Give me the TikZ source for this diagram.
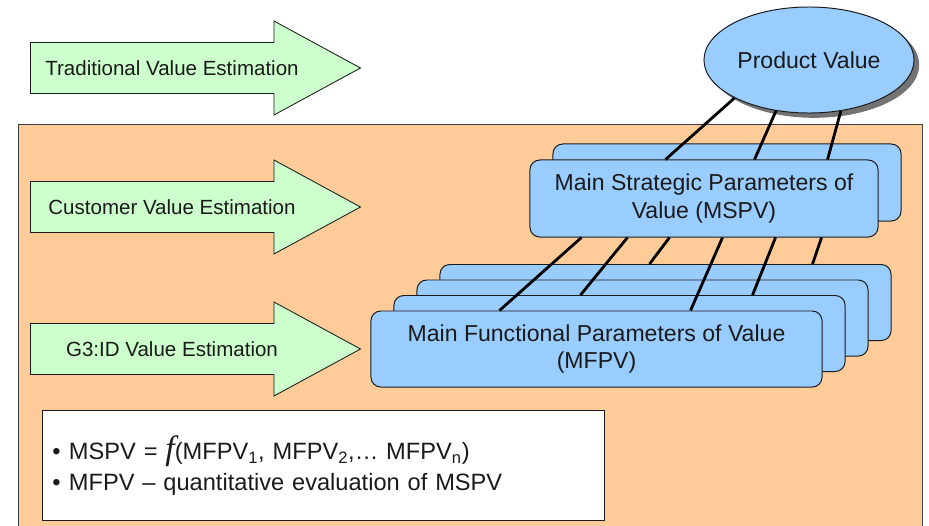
\documentclass[tikz,border=0pt]{standalone}
\usepackage{fontspec}
\setmainfont{Liberation Sans}
\newfontfamily\funcfont{Liberation Serif}
\usepackage{tikz}
\usetikzlibrary{positioning,shapes.arrows,shapes.geometric,shadows,calc}
\definecolor{zonefill}{HTML}{FFCC99}
\definecolor{zoneedge}{HTML}{404040}
\definecolor{arrowfill}{HTML}{CCFFCC}
\definecolor{parfill}{HTML}{99CCFF}
\definecolor{ink}{HTML}{1A1A1A}
\tikzset{
  zone/.style    ={draw=zoneedge,line width=0.6pt,fill=zonefill},
  estarrow/.style={single arrow,draw=ink,line width=0.6pt,fill=arrowfill,
                   inner ysep=0.625cm,inner xsep=0pt,minimum height=8.25cm,
                   single arrow head extend=0.5375cm,single arrow tip angle=57,
                   anchor=tail},
  esttext/.style ={font=\fontsize{14.6}{17.5}\selectfont,text=ink},
  pbox/.style    ={rounded corners=7pt,draw=ink,line width=0.7pt,fill=parfill,
                   align=center,inner sep=0pt,text=ink,
                   font=\fontsize{16.4}{19.8}\selectfont},
  msbox/.style   ={pbox,minimum width=8.7cm,minimum height=1.925cm},
  mfbox/.style   ={pbox,minimum width=11.275cm,minimum height=1.9cm},
  pvnode/.style  ={ellipse,draw=ink,line width=0.7pt,fill=parfill,inner sep=0pt,
                   minimum width=5.25cm,minimum height=2.65cm,text=ink,
                   font=\fontsize{16.4}{19.8}\selectfont,
                   drop shadow={shadow xshift=0.13cm,shadow yshift=-0.12cm,
                                fill=black!55,opacity=1}},
  note/.style    ={draw=ink,line width=0.6pt,fill=white,anchor=north west,
                   minimum width=14.05cm,minimum height=2.75cm,inner xsep=0.25cm,
                   text width=13.55cm,align=left,text=ink,
                   font=\fontsize{16.8}{22}\selectfont},
  link/.style    ={line width=2pt,draw=black}
}

\begin{document}
\begin{tikzpicture}[x=0.025cm,y=-0.025cm]
  \useasboundingbox (0,0) rectangle (929,526);
  \draw[zone] (18,124) rectangle (922,529);

  % estimation arrows
  \node[estarrow] (trad) at (30,68) {};
  \node[esttext] (tradtext) at (172,68) {Traditional Value Estimation};
  \node[estarrow] (cust) at (30,207) {};
  \node[esttext] (custtext) at (172,207) {Customer Value Estimation};
  \node[estarrow] (gid) at (30,349) {};
  \node[esttext] (gidtext) at (172,349) {G3:ID Value Estimation};

  % strategic parameters
  \coordinate (mspos) at (704,198.5);
  \node[msbox] (ms2) at ([shift={(23,-16)}]mspos) {};
  \node[msbox] (ms1) at (mspos) {Main Strategic Parameters of\\Value (MSPV)};

  % functional parameters
  \coordinate (mfpos) at (596.5,349);
  \node[mfbox] (mf4) at ([shift={(69,-46.5)}]mfpos) {};
  \node[mfbox] (mf3) at ([shift={(46,-31)}]mfpos) {};
  \node[mfbox] (mf2) at ([shift={(23,-15.5)}]mfpos) {};
  \node[mfbox] (mf1) at (mfpos) {Main Functional Parameters of Value\\(MFPV)};

  \node[pvnode] (pv) at (809,60) {Product Value};

  \draw[link] (pv.-153.4) -- ([xshift=3.4cm]ms1.north west);
  \draw[link] (pv.-123) -- ([xshift=5.625cm]ms1.north west);
  \draw[link] (pv.-58.7) -- ([xshift=7.45cm]ms1.north west);
  \foreach \s/\t/\o in {1.3/mf1/3.225,2.45/mf2/4.675,3.5/mf4/5.25,
                        4.825/mf1/8.0,6.15/mf2/8.975,7.3/mf4/9.325}
    \draw[link] ([xshift=\s cm]ms1.south west) -- ([xshift=\o cm]\t.north west);

  \node[note] (formula) at (42,410)
    {•\hspace{0.35em}MSPV = {\funcfont\itshape\fontsize{24}{24}\selectfont f}(MFPV\textsubscript{1}, MFPV\textsubscript{2},… MFPV\textsubscript{n})\\
     •\hspace{0.35em}MFPV -- quantitative evaluation of MSPV};
\end{tikzpicture}
\end{document}
